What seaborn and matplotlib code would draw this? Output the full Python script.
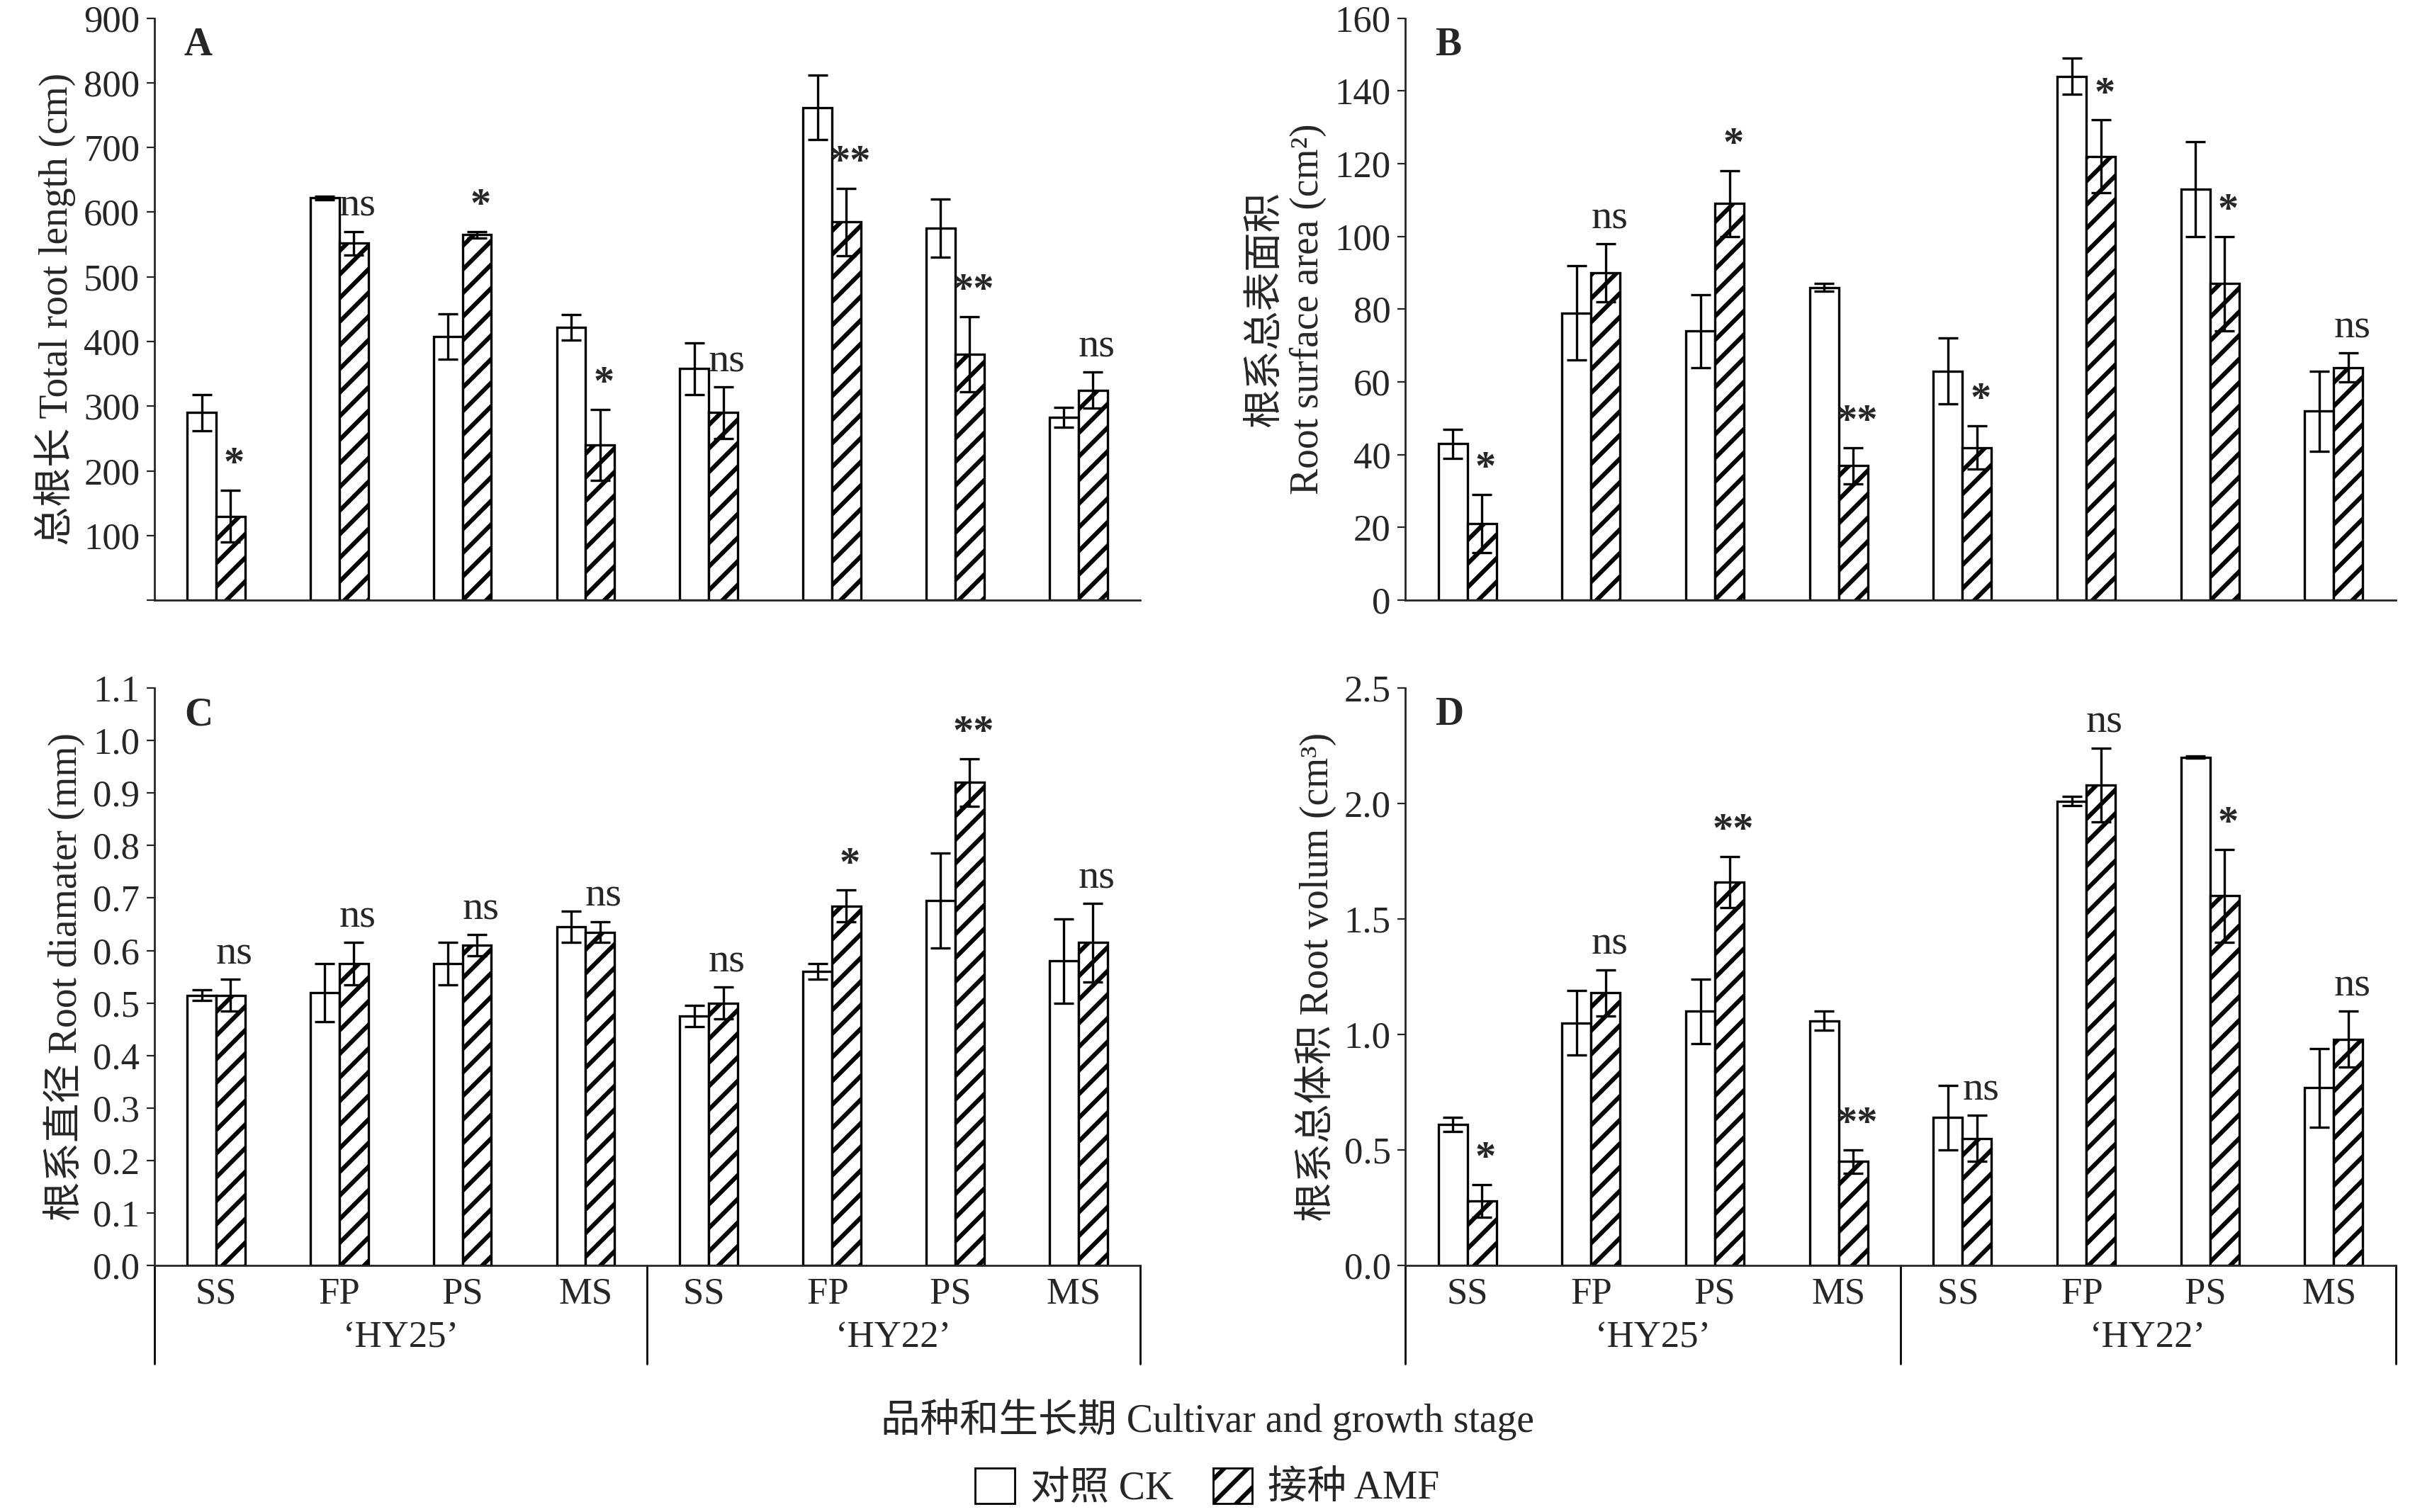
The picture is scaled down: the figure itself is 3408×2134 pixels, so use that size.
import numpy as np
import pandas as pd
import seaborn as sns
import matplotlib.pyplot as plt
from matplotlib.patches import Patch

sns.set_style('ticks')
plt.rcParams['font.family'] = ['Liberation Serif', 'Noto Sans CJK SC']
plt.rcParams['hatch.linewidth'] = 2.2
plt.rcParams['font.size'] = 18

stages = ['SS', 'FP', 'PS', 'MS', 'SS ', 'FP ', 'PS ', 'MS ']

# panel A: total root length
a_ck = [290, 622, 408, 422, 358, 762, 575, 283]
a_ck_err = [28, 3, 35, 20, 40, 50, 45, 15]
a_amf = [130, 552, 565, 240, 290, 585, 380, 325]
a_amf_err = [40, 18, 5, 55, 40, 52, 58, 28]
a_sig = ['*', 'ns', '*', '*', 'ns', '**', '**', 'ns']

# panel B: surface area
b_ck = [43, 79, 74, 86, 63, 144, 113, 52]
b_ck_err = [4, 13, 10, 1, 9, 5, 13, 11]
b_amf = [21, 90, 109, 37, 42, 122, 87, 64]
b_amf_err = [8, 8, 9, 5, 6, 10, 13, 4]
b_sig = ['*', 'ns', '*', '**', '*', '*', '*', 'ns']

# panel C: diameter
c_ck = [0.515, 0.52, 0.575, 0.645, 0.475, 0.56, 0.695, 0.58]
c_ck_err = [0.01, 0.055, 0.04, 0.03, 0.02, 0.015, 0.09, 0.08]
c_amf = [0.515, 0.575, 0.61, 0.635, 0.50, 0.685, 0.92, 0.615]
c_amf_err = [0.03, 0.04, 0.02, 0.02, 0.03, 0.03, 0.045, 0.075]
c_sig = ['ns', 'ns', 'ns', 'ns', 'ns', '*', '**', 'ns']

# panel D: volume
d_ck = [0.61, 1.05, 1.10, 1.06, 0.64, 2.01, 2.20, 0.77]
d_ck_err = [0.03, 0.14, 0.14, 0.04, 0.14, 0.02, 0.005, 0.17]
d_amf = [0.28, 1.18, 1.66, 0.45, 0.55, 2.08, 1.60, 0.98]
d_amf_err = [0.07, 0.10, 0.11, 0.05, 0.10, 0.16, 0.20, 0.12]
d_sig = ['*', 'ns', '**', '**', 'ns', 'ns', '*', 'ns']

cultivars = ["‘HY25’", "‘HY22’"]

fig = plt.figure(figsize=(17.04, 10.67), dpi=200)
pos = {'A': [0.064, 0.603, 0.408, 0.385], 'B': [0.582, 0.603, 0.41, 0.385],
       'C': [0.064, 0.163, 0.408, 0.382], 'D': [0.582, 0.163, 0.41, 0.382]}

panels = [
    ('A', a_ck, a_ck_err, a_amf, a_amf_err, a_sig, (0, 900), 100, '总根长 Total root length (cm)', '%d'),
    ('B', b_ck, b_ck_err, b_amf, b_amf_err, b_sig, (0, 160), 20, '根系总表面积\nRoot surface area (cm²)', '%d'),
    ('C', c_ck, c_ck_err, c_amf, c_amf_err, c_sig, (0, 1.1), 0.1, '根系直径 Root diamater (mm)', '%.1f'),
    ('D', d_ck, d_ck_err, d_amf, d_amf_err, d_sig, (0, 2.5), 0.5, '根系总体积 Root volum (cm³)', '%.1f'),
]

for name, ck, ckerr, amf, amferr, sig, ylim, step, ylab, fmt in panels:
    ax = fig.add_axes(pos[name])
    df = pd.DataFrame({'stage': stages * 2, 'val': ck + amf,
                       'trt': ['CK'] * 8 + ['AMF'] * 8})
    sns.barplot(data=df, x='stage', y='val', hue='trt', ax=ax, width=0.47,
                palette=['white', 'white'], edgecolor='black', linewidth=1.2,
                errorbar=None, legend=False)
    bars = ax.patches[:16]
    for p in bars[8:]:
        p.set_hatch('//')
    xs_ck = [p.get_x() + p.get_width() / 2 for p in bars[:8]]
    xs_amf = [p.get_x() + p.get_width() / 2 for p in bars[8:]]
    ax.errorbar(xs_ck, ck, yerr=ckerr, fmt='none', ecolor='black', elinewidth=1.2, capsize=5, capthick=1.2)
    ax.errorbar(xs_amf, amf, yerr=amferr, fmt='none', ecolor='black', elinewidth=1.2, capsize=5, capthick=1.2)
    off = (ylim[1] - ylim[0]) * 0.012
    for x, v, e, s in zip(xs_amf, amf, amferr, sig):
        ax.text(x + 0.03, v + e + off, s, ha='center', va='bottom', fontsize=21,
                fontweight='bold' if s != 'ns' else 'normal')
    ax.set_ylim(*ylim)
    ax.set_xlim(-0.5, 7.5)
    ticks = np.arange(ylim[0], ylim[1] + step / 2, step)
    ax.set_yticks(ticks)
    ax.set_yticklabels([fmt % t for t in ticks])
    if name == 'A':
        ax.set_yticklabels([''] + [fmt % t for t in ticks[1:]])
    ax.set_ylabel(ylab, fontsize=20, labelpad=4)
    ax.set_xlabel('')
    ax.text(0.03, 0.985, name, transform=ax.transAxes, fontsize=20, fontweight='bold', va='top')
    for sp in ['top', 'right']:
        ax.spines[sp].set_visible(False)
    ax.tick_params(axis='y', direction='out', length=4, labelsize=19)
    if name in ('A', 'B'):
        ax.set_xticks([])
    else:
        ax.tick_params(axis='x', length=0, labelsize=19, pad=6)
        for xv in [0.0, 0.5, 1.0]:
            ax.plot([xv, xv], [0, -0.17], transform=ax.transAxes, color='black', lw=1.0, clip_on=False)
        ax.text(0.25, -0.125, cultivars[0], transform=ax.transAxes, ha='center', va='center', fontsize=19)
        ax.text(0.75, -0.125, cultivars[1], transform=ax.transAxes, ha='center', va='center', fontsize=19)
    for sp in ax.spines.values():
        sp.set_linewidth(1.0)

fig.text(0.5, 0.061, '品种和生长期 Cultivar and growth stage', ha='center', va='center', fontsize=20)
handles = [Patch(facecolor='white', edgecolor='black', label='对照 CK'),
           Patch(facecolor='white', edgecolor='black', hatch='//', label='接种 AMF')]
fig.legend(handles=handles, loc='center', bbox_to_anchor=(0.5, 0.016), ncol=2, frameon=False,
           fontsize=20, handlelength=1.0, handleheight=1.0, columnspacing=1.0, handletextpad=0.4)

fig.savefig('out.png', dpi=200)
